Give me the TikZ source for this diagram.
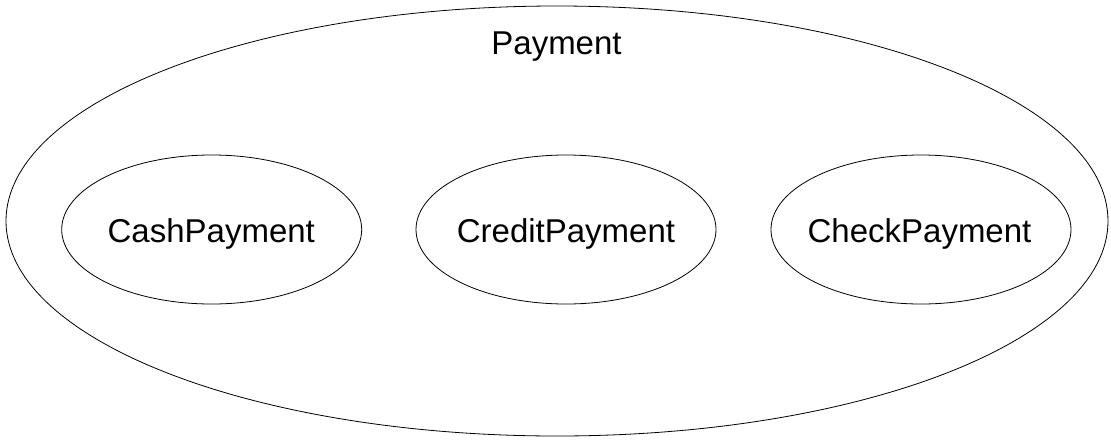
\documentclass[tikz,border=0pt]{standalone}
\usepackage{fontspec}
\setmainfont{Liberation Sans}
\begin{document}
\begin{tikzpicture}[x=1pt,y=-1pt,
  oval/.style={draw=black,line width=0.8pt},
  lbl/.style={font=\fontsize{33}{39}\selectfont,inner sep=0pt,anchor=base}]
\useasboundingbox (0,0) rectangle (1111,440);
\draw[oval] (557,221) ellipse [x radius=551, y radius=215];
\node[lbl] (payment) at (556.5,54) {Payment};
\draw[oval] (211.7,229.5) ellipse [x radius=150, y radius=74.5];
\node[lbl] (cash) at (211.3,242) {CashPayment};
\draw[oval] (566,229.5) ellipse [x radius=150, y radius=74.5];
\node[lbl] (credit) at (566,242) {CreditPayment};
\draw[oval] (921,229.5) ellipse [x radius=150, y radius=74.5];
\node[lbl] (check) at (919.5,242) {CheckPayment};
\end{tikzpicture}
\end{document}
